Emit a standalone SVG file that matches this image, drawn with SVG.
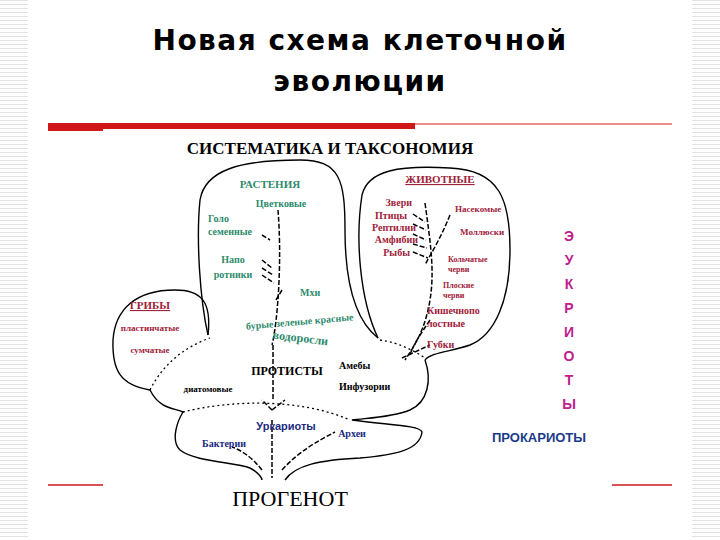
<svg xmlns="http://www.w3.org/2000/svg" width="720" height="540" viewBox="0 0 720 540">
<defs>
<pattern id="st" width="8" height="4" patternUnits="userSpaceOnUse"><rect width="8" height="4" fill="#fff"/><rect width="8" height="1" fill="#e2e2e2"/></pattern>
<style>
.o{fill:none;stroke:#000;stroke-width:1.4}
.d{fill:none;stroke:#000;stroke-width:1.3;stroke-dasharray:2 3}
.s{fill:none;stroke:#000;stroke-width:1.5;stroke-dasharray:5 2}
.g{font-family:"Liberation Serif",serif;font-weight:bold;fill:#2e8b6e}
.r{font-family:"Liberation Serif",serif;font-weight:bold;fill:#a0223a}
.k{font-family:"Liberation Serif",serif;font-weight:bold;fill:#000}
.b{font-family:"Liberation Serif",serif;font-weight:bold;fill:#1a2a80}
</style>
</defs>
<rect width="720" height="540" fill="url(#st)"/>
<rect x="28" y="0" width="664" height="540" fill="#fff"/>
<text x="360" y="50" text-anchor="middle" font-family="DejaVu Sans,sans-serif" font-weight="bold" letter-spacing="1.5" font-size="28" fill="#000">Новая схема клеточной</text>
<text x="360" y="91" text-anchor="middle" font-family="DejaVu Sans,sans-serif" font-weight="bold" letter-spacing="1.5" font-size="28" fill="#000">эволюции</text>
<rect x="48" y="123" width="367" height="8" fill="#d01818"/>
<line x1="415" y1="124" x2="672" y2="124" stroke="#d01818" stroke-width="1"/>
<line x1="48" y1="485" x2="672" y2="485" stroke="#d01818" stroke-width="1.5"/>
<rect x="103" y="129" width="509" height="393" fill="#fff"/>
<text x="330" y="154" text-anchor="middle" class="k" font-size="17">СИСТЕМАТИКА И ТАКСОНОМИЯ</text>
<g id="outlines">
<path class="o" d="M208,335 C200,300 196,240 200,200 C205,170 240,160 300,160 C340,160 345,180 345,230 C345,280 355,320 378,338"/>
<path class="o" d="M378,338 C360,300 355,240 362,195 C368,170 400,165 450,168 C500,170 510,200 510,250 C510,300 495,335 470,345 C450,352 432,352 425,360"/>
<path class="o" d="M208,335 C212,300 200,290 175,290 C135,290 115,310 113,340 C112,370 120,385 150,390"/>
<path class="o" d="M150,390 C160,410 175,408 183,412 C178,420 170,440 180,450 C195,462 235,462 250,468 C258,472 262,478 262,480"/>
<path class="o" d="M425,360 C432,380 428,402 410,410 C390,418 365,418 352,420 C385,425 420,425 422,432 C420,450 395,455 360,458 C320,460 295,465 285,480"/>
<path class="d" d="M183,412 C230,400 300,398 350,420"/>
<path class="d" d="M150,390 C165,360 190,345 210,338"/>
<path class="d" d="M380,340 C395,342 410,348 425,358"/>
</g>
<g id="branches">
<path class="s" d="M278,210 C282,260 278,320 272,345"/>
<path class="s" d="M273,345 L273,400"/>
<path class="s" d="M272,420 L272,478"/>
<path class="s" d="M262,470 C250,455 240,450 232,447"/>
<path class="s" d="M282,470 C300,450 320,440 335,432"/>
<path class="s" d="M272,410 L262,400 M272,410 L285,400"/>
<path class="s" d="M425,203 C430,240 435,270 430,300 C425,330 415,345 405,360"/>
<path class="s" d="M450,215 C440,240 430,255 425,265"/>
<path class="s" d="M430,320 C420,335 413,345 410,355"/>
<path class="s" d="M402,358 L430,345"/>
<path class="s" d="M262,235 L270,240 M262,260 L272,268 M262,268 L273,275 M262,275 L274,283 M282,290 L276,300"/>
<path class="s" d="M413,214 L425,222 M413,224 L426,230 M413,234 L426,240 M413,244 L427,248 M413,252 L428,258"/>
</g>
<g id="labels">
<text x="270" y="188" text-anchor="middle" class="g" font-size="11">РАСТЕНИЯ</text>
<text x="281" y="207" text-anchor="middle" class="g" font-size="10">Цветковые</text>
<text x="208" y="222" class="g" font-size="10">Голо</text>
<text x="208" y="235" class="g" font-size="10">семенные</text>
<text x="233" y="263" text-anchor="middle" class="g" font-size="10">Напо</text>
<text x="233" y="278" text-anchor="middle" class="g" font-size="10">ротники</text>
<text x="300" y="296" class="g" font-size="10">Мхи</text>
<text x="300" y="325" text-anchor="middle" class="g" font-size="10" transform="rotate(-5 300 325)">бурые зеленые красные</text>
<text x="300" y="342" text-anchor="middle" class="g" font-size="12" transform="rotate(7 300 342)">водоросли</text>
<text x="150" y="309" text-anchor="middle" class="r" font-size="11" text-decoration="underline">ГРИБЫ</text>
<text x="150" y="331" text-anchor="middle" class="r" font-size="9">пластинчатые</text>
<text x="150" y="353" text-anchor="middle" class="r" font-size="9">сумчатые</text>
<text x="440" y="183" text-anchor="middle" class="r" font-size="11" text-decoration="underline">ЖИВОТНЫЕ</text>
<text x="412" y="206" text-anchor="end" class="r" font-size="10">Звери</text>
<text x="407" y="219" text-anchor="end" class="r" font-size="10">Птицы</text>
<text x="416" y="231" text-anchor="end" class="r" font-size="10">Рептилии</text>
<text x="418" y="243" text-anchor="end" class="r" font-size="10">Амфибии</text>
<text x="410" y="256" text-anchor="end" class="r" font-size="10">Рыбы</text>
<text x="455" y="212" class="r" font-size="9">Насекомые</text>
<text x="460" y="235" class="r" font-size="9">Моллюски</text>
<text x="448" y="262" class="r" font-size="8">Кольчатые</text>
<text x="448" y="272" class="r" font-size="8">черви</text>
<text x="443" y="288" class="r" font-size="8">Плоские</text>
<text x="443" y="298" class="r" font-size="8">черви</text>
<text x="427" y="314" class="r" font-size="10">Кишечнопо</text>
<text x="427" y="327" class="r" font-size="10">лостные</text>
<text x="427" y="348" class="r" font-size="10">Губки</text>
<text x="287" y="375" text-anchor="middle" class="k" font-size="12" font-weight="normal">ПРОТИСТЫ</text>
<text x="339" y="369" class="k" font-size="10">Амебы</text>
<text x="339" y="390" class="k" font-size="10">Инфузории</text>
<text x="208" y="392" text-anchor="middle" class="k" font-size="9">диатомовые</text>
<text x="286" y="430" text-anchor="middle" font-family="Liberation Sans,sans-serif" font-weight="bold" font-size="11" fill="#1a2a80">Уркариоты</text>
<text x="224" y="447" text-anchor="middle" class="b" font-size="10">Бактерии</text>
<text x="352" y="437" text-anchor="middle" class="b" font-size="10">Археи</text>
<text x="290" y="506" text-anchor="middle" font-family="Liberation Serif,serif" font-size="22" fill="#000">ПРОГЕНОТ</text>
<text x="539" y="442" text-anchor="middle" font-family="Liberation Sans,sans-serif" font-weight="bold" font-size="13" fill="#1a3a8a">ПРОКАРИОТЫ</text>
<g font-family="Liberation Sans,sans-serif" font-weight="bold" font-size="14" fill="#c0208c" text-anchor="middle">
<text x="569" y="241">Э</text><text x="569" y="265">У</text><text x="569" y="289">К</text><text x="569" y="313">Р</text><text x="569" y="337">И</text><text x="569" y="361">О</text><text x="569" y="385">Т</text><text x="569" y="409">Ы</text>
</g>
</g>
</svg>
